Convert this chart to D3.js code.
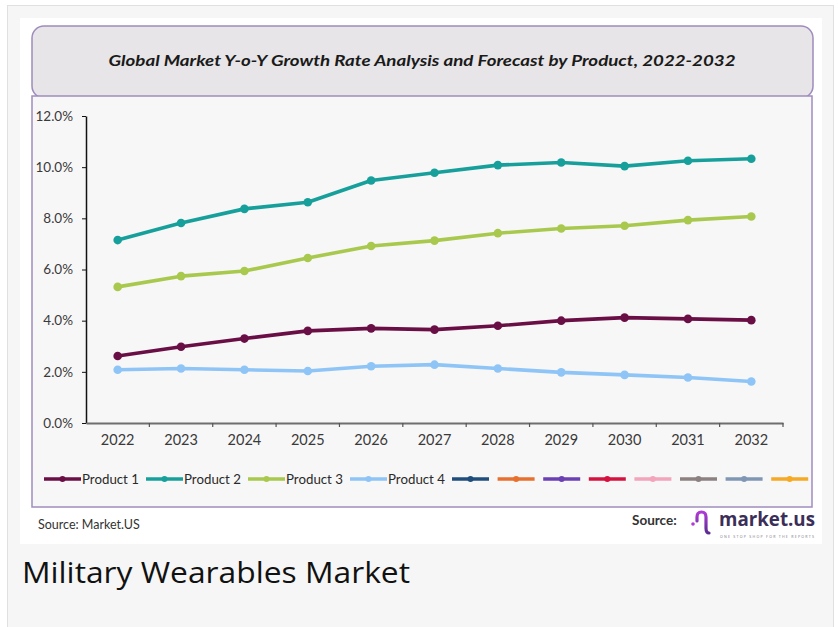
<!DOCTYPE html>
<html>
<head>
<meta charset="utf-8">
<script src="https://cdn.jsdelivr.net/npm/d3@7"></script>
<style>
  body { margin: 0; background: #fff; }
  svg { display: block; }
</style>
</head>
<body>
<script>
// chart values
var years = ["2022", "2023", "2024", "2025", "2026", "2027", "2028", "2029", "2030", "2031", "2032"];
var product1 = [2.62, 2.98, 3.30, 3.60, 3.70, 3.65, 3.80, 4.00, 4.12, 4.07, 4.02];
var product2 = [7.15, 7.82, 8.37, 8.63, 9.48, 9.78, 10.08, 10.18, 10.04, 10.25, 10.33];
var product3 = [5.32, 5.74, 5.94, 6.45, 6.92, 7.13, 7.42, 7.60, 7.71, 7.93, 8.07];
var product4 = [2.08, 2.13, 2.08, 2.03, 2.22, 2.28, 2.13, 1.98, 1.88, 1.78, 1.62];
var yTicks = [0, 2, 4, 6, 8, 10, 12];

var seriesNames = ["Product 1", "Product 2", "Product 3", "Product 4"];
var seriesColors = ["#6a0f45", "#17a09b", "#a9c94e", "#8ec5f6"];
// empty legend entries on the right
var extraColors = ["#1f4e7d", "#e8702f", "#6b40b3", "#d5123f", "#f2a5bb", "#8d8080", "#7f97b3", "#f5a925"];

var series = [product1, product2, product3, product4];

var W = 838, H = 627;
var font = "Lato, 'Open Sans', sans-serif";

var svg = d3.select("body").append("svg").attr("width", W).attr("height", H);

// page card + white picture
svg.append("rect").attr("x", 7.5).attr("y", 5.5).attr("width", 826).attr("height", 640)
    .attr("fill", "#f6f6f6").attr("stroke", "#e0e0e0");
svg.append("rect").attr("x", 20).attr("y", 18).attr("width", 802).attr("height", 526).attr("fill", "#fff");

// title box with rounded corners
svg.append("rect").attr("x", 32).attr("y", 26).attr("width", 781).attr("height", 72).attr("rx", 12)
    .attr("fill", "#e7e5e7").attr("stroke", "#9f8bbd").attr("stroke-width", 1.5);
svg.append("text").attr("x", 422).attr("y", 66).attr("text-anchor", "middle")
    .attr("font-family", font).attr("font-size", 15.5).attr("font-weight", "bold").attr("font-style", "italic")
    .attr("fill", "#1a1a1a").attr("textLength", 627).attr("lengthAdjust", "spacingAndGlyphs")
    .text("Global Market Y-o-Y  Growth Rate Analysis and Forecast by Product, 2022-2032");

// plot box
svg.append("rect").attr("x", 32).attr("y", 96).attr("width", 780).attr("height", 411)
    .attr("fill", "#f7f7f7").attr("stroke", "#a08cbf").attr("stroke-width", 1.5);

var x = d3.scaleBand().domain(years).range([86, 783]).padding(0);
var y = d3.scaleLinear().domain([0, 12]).range([423, 116]);
var cx = function (d) { return x(d) + x.bandwidth() / 2; };

// y axis
var yAxis = svg.append("g").attr("transform", "translate(86,0)")
    .call(d3.axisLeft(y).tickValues(yTicks).tickSize(4).tickSizeOuter(0).tickPadding(9)
        .tickFormat(function (d) { return d3.format(".1f")(d) + "%"; }));
yAxis.select(".domain").attr("stroke", "#111").attr("stroke-width", 1.5);
yAxis.selectAll(".tick line").attr("stroke", "#111");
yAxis.selectAll("text").attr("font-family", font).attr("font-size", 13.5).attr("fill", "#3a3a3a");

// x axis, labels centered in bands, tick marks on band edges
var xAxis = svg.append("g").attr("transform", "translate(0,423)")
    .call(d3.axisBottom(x).tickSize(0).tickPadding(12));
xAxis.select(".domain").attr("stroke", "#6f6f6f").attr("stroke-width", 2);
xAxis.selectAll("text").attr("font-family", font).attr("font-size", 14.5).attr("fill", "#3a3a3a");
var edges = years.map(function (d) { return x(d); }).concat([x.range()[1]]);
svg.append("g").selectAll("line").data(edges.slice(1)).enter().append("line")
    .attr("x1", function (d) { return d; }).attr("x2", function (d) { return d; })
    .attr("y1", 423).attr("y2", 427).attr("stroke", "#555").attr("stroke-width", 1.2);

// lines + markers
var line = d3.line().x(function (d, i) { return cx(years[i]); }).y(function (d) { return y(d); });
series.forEach(function (vals, k) {
    var g = svg.append("g");
    g.append("path").attr("d", line(vals)).attr("fill", "none")
        .attr("stroke", seriesColors[k]).attr("stroke-width", 3.6).attr("stroke-linejoin", "round");
    g.selectAll("circle").data(vals).enter().append("circle")
        .attr("cx", function (d, i) { return cx(years[i]); })
        .attr("cy", function (d) { return y(d); })
        .attr("r", 4.3).attr("fill", seriesColors[k]);
});

// legend
var legend = svg.append("g").attr("transform", "translate(0,479)");
var lx = 44;
var entries = seriesNames.map(function (n, i) { return { name: n, color: seriesColors[i] }; })
    .concat(extraColors.map(function (c) { return { name: "", color: c }; }));
entries.forEach(function (e) {
    legend.append("line").attr("x1", lx).attr("x2", lx + 37).attr("y1", 0).attr("y2", 0)
        .attr("stroke", e.color).attr("stroke-width", 3.6);
    legend.append("circle").attr("cx", lx + 18.5).attr("cy", 0).attr("r", 3).attr("fill", e.color);
    lx += 37;
    if (e.name) {
        var t = legend.append("text").attr("x", lx + 1).attr("y", 4.5)
            .attr("font-family", font).attr("font-size", 13).attr("fill", "#2a2a2a")
            .attr("textLength", 57).attr("lengthAdjust", "spacingAndGlyphs").text(e.name);
        lx += 1 + 57 + 7;
    } else {
        lx += 8.6;
    }
});

// source line
svg.append("text").attr("x", 38).attr("y", 529).attr("font-family", font).attr("font-size", 12.5)
    .attr("fill", "#333").text("Source: Market.US");
svg.append("text").attr("x", 632).attr("y", 525).attr("font-family", font).attr("font-size", 13.5)
    .attr("font-weight", "bold").attr("fill", "#333").text("Source:");

// market.us logo
var logo = svg.append("g");
var grad = svg.append("defs").append("linearGradient").attr("id", "lg").attr("x1", 0).attr("y1", 0).attr("x2", 0).attr("y2", 1);
grad.append("stop").attr("offset", "0%").attr("stop-color", "#b03bd6");
grad.append("stop").attr("offset", "100%").attr("stop-color", "#5a2d91");
logo.append("path").attr("d", "M697,521 L697,517 Q697,512 701.5,512 Q706,512 706,517 L706,528 Q706,533 709,533")
    .attr("fill", "none").attr("stroke", "url(#lg)").attr("stroke-width", 3.2).attr("stroke-linecap", "round");
logo.append("line").attr("x1", 710).attr("x2", 710).attr("y1", 513).attr("y2", 527)
    .attr("stroke", "url(#lg)").attr("stroke-width", 3).attr("stroke-linecap", "round");
logo.append("line").attr("x1", 714.5).attr("x2", 714.5).attr("y1", 511).attr("y2", 527)
    .attr("stroke", "url(#lg)").attr("stroke-width", 3).attr("stroke-linecap", "round");
logo.append("circle").attr("cx", 693).attr("cy", 524).attr("r", 1.8).attr("fill", "#b03bd6");
logo.append("text").attr("x", 719).attr("y", 526).attr("font-family", "'Open Sans', sans-serif")
    .attr("font-size", 19).attr("font-weight", "bold").attr("fill", "#3b2e58")
    .attr("textLength", 96).attr("lengthAdjust", "spacingAndGlyphs").text("market.us");
logo.append("text").attr("x", 720).attr("y", 538).attr("font-family", "'Open Sans', sans-serif")
    .attr("font-size", 3.6).attr("fill", "#7a7a8a").attr("textLength", 94)
    .text("ONE STOP SHOP FOR THE REPORTS");

// caption under the picture
svg.append("text").attr("x", 22).attr("y", 583).attr("font-family", "'Open Sans', sans-serif")
    .attr("font-size", 29).attr("fill", "#111").attr("textLength", 388).attr("lengthAdjust", "spacingAndGlyphs")
    .text("Military Wearables Market");
</script>
</body>
</html>
